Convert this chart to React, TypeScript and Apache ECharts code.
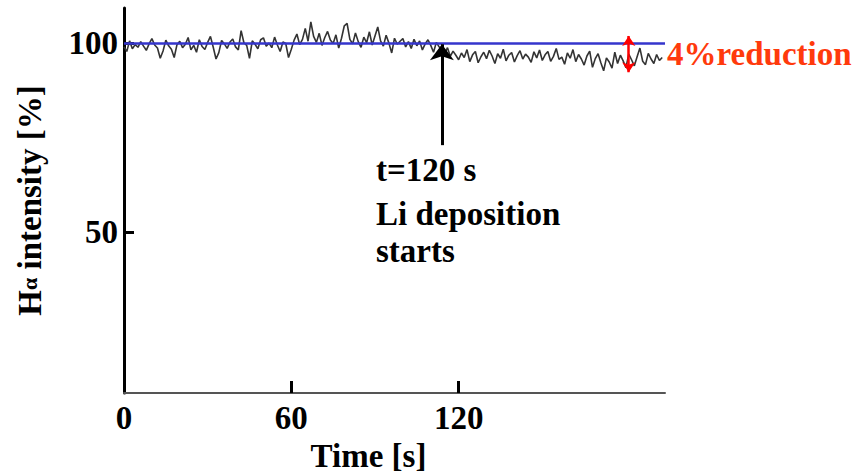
import React, { useEffect, useRef } from "react";
import * as echarts from "echarts";

// Time in seconds (1 s sampling) and H-alpha intensity [%]
const times: number[] = Array.from({ length: 194 }, (_, i) => i);
const intensity: number[] = [
  99.0, 97.8, 100.6, 98.5, 99.6, 98.9, 100.4, 99.2, 98.1, 99.8,
  101.2, 99.5, 98.7, 96.0, 97.9, 100.8, 99.3, 98.4, 96.2, 99.6,
  100.5, 98.8, 99.7, 101.5, 98.2, 99.4, 97.6, 100.9, 99.1, 98.3,
  100.2, 101.8, 98.9, 95.8, 97.5, 100.7, 99.8, 98.6, 100.3, 101.1,
  99.0, 98.2, 103.3, 100.1, 99.4, 96.0, 100.6, 99.7, 98.5, 100.9,
  101.4, 99.2, 100.0, 98.8, 101.6, 99.5, 97.8, 100.3, 99.9, 96.2,
  98.4, 100.8, 102.4, 99.6, 101.0, 103.9, 100.5, 105.6, 101.8, 100.2,
  102.6, 99.4, 101.5, 103.1, 100.8, 99.9, 102.2, 98.7, 101.3, 104.6,
  105.2, 101.0, 99.8, 102.7, 100.4, 98.9, 101.6, 100.1, 103.0, 99.5,
  101.9, 104.3, 100.6, 99.2, 102.1, 100.0, 97.4, 101.3, 99.7, 100.5,
  101.2, 99.0, 100.4, 98.6, 101.0, 99.3, 100.6, 98.2, 99.8, 100.9,
  99.4, 97.6, 100.2, 99.0, 98.4, 97.1, 98.8, 96.5, 97.9, 96.8,
  95.6, 97.4, 96.2, 98.3, 95.1, 96.9, 97.8, 94.8, 96.4, 97.6,
  95.9, 98.1, 96.6, 94.6, 97.2, 96.0, 98.4, 95.3, 96.8, 97.5,
  95.0, 96.7, 98.0, 95.8, 97.1, 96.3, 94.9, 97.7, 96.1, 98.2,
  95.4, 96.9, 97.8, 95.2, 96.5, 98.6, 95.7, 96.3, 94.4, 97.4,
  96.0, 98.3, 95.1, 97.0, 95.8, 94.2, 96.6, 97.9, 93.6, 95.9,
  97.2, 94.8, 92.7, 96.1, 95.0, 93.4, 97.6, 94.6, 96.8, 95.3,
  93.5, 97.1, 95.6, 94.0, 96.4, 98.7, 95.2, 94.3, 97.3, 95.8,
  94.6, 97.0, 95.4, 96.2,
];

const xTicks = [60, 120];
const xLabels = [0, 60, 120];
const yTicks = [50, 100];
const referenceLevel = 100;
// deposition arrow: time, tail value, tip value
const depositionArrow = [114, 73, 99.7];
// reduction arrow: time, top value, bottom value
const reductionArrow = [181, 101.9, 92.3];
const annotationLines = ["t=120 s", "Li deposition", "starts"];
const reductionText = "4%reduction";

const FONT = '"Liberation Serif", "Times New Roman", serif';

export default function App() {
  const ref = useRef<HTMLDivElement>(null);

  useEffect(() => {
    if (!ref.current) return;
    const chart = echarts.init(ref.current, null, { renderer: "svg" });
    const baseText = {
      fontFamily: FONT,
      fontWeight: "bold" as const,
      fontSize: 33,
      color: "#000",
    };
    chart.setOption({
      animation: false,
      backgroundColor: "#ffffff",
      grid: {
        left: 124,
        right: 191,
        top: 8,
        bottom: 82,
        outerBoundsMode: "none",
      },
      xAxis: {
        type: "value",
        min: 0,
        max: 194,
        splitLine: { show: false },
        axisLine: { show: true, onZero: false, lineStyle: { color: "#555", width: 2 } },
        axisTick: {
          show: true,
          inside: true,
          length: 12,
          customValues: xTicks,
          lineStyle: { color: "#000", width: 3 },
        },
        axisLabel: { ...baseText, customValues: xLabels, margin: 8 },
        name: "Time [s]",
        nameLocation: "middle",
        nameGap: 46,
        nameTextStyle: { ...baseText, padding: [0, 52, 0, 0] },
      },
      yAxis: {
        type: "value",
        min: 7.4,
        max: 109.3,
        splitLine: { show: false },
        axisLine: { show: true, onZero: false, lineStyle: { color: "#000", width: 3 } },
        axisTick: {
          show: true,
          inside: true,
          length: 10,
          customValues: yTicks,
          lineStyle: { color: "#000", width: 3 },
        },
        axisLabel: { ...baseText, customValues: yTicks, margin: 6 },
        name: "{h|H}{a|α}{h| intensity [%]}",
        nameLocation: "middle",
        nameGap: 78,
        nameTextStyle: {
          ...baseText,
          rich: {
            h: { ...baseText },
            a: { ...baseText, fontSize: 22 },
          },
        },
      },
      series: [
        {
          type: "line",
          data: times.map((t, i) => [t, intensity[i]]),
          showSymbol: false,
          lineStyle: { color: "#333333", width: 1.6 },
          z: 2,
          markLine: {
            silent: true,
            symbol: ["none", "none"],
            label: { show: false },
            lineStyle: { color: "#3535cc", width: 2.5, type: "solid" },
            data: [{ yAxis: referenceLevel }],
          },
        },
        {
          type: "line",
          data: [],
          markLine: {
            silent: true,
            symbol: ["none", "arrow"],
            symbolSize: [18, 16],
            label: { show: false },
            lineStyle: { color: "#000", width: 3, type: "solid" },
            data: [
              [
                { coord: [depositionArrow[0], depositionArrow[1]] },
                { coord: [depositionArrow[0], depositionArrow[2]] },
              ],
            ],
          },
        },
        {
          type: "line",
          data: [],
          markLine: {
            silent: true,
            symbol: ["arrow", "arrow"],
            symbolSize: [10, 10],
            label: { show: false },
            lineStyle: { color: "#ff0000", width: 2.5, type: "solid" },
            data: [
              [
                { coord: [reductionArrow[0], reductionArrow[1]] },
                { coord: [reductionArrow[0], reductionArrow[2]] },
              ],
            ],
          },
        },
      ],
      graphic: [
        ...annotationLines.map((s, i) => ({
          type: "text",
          left: 376,
          top: [153, 197, 234][i],
          style: {
            text: s,
            font: `bold 33px ${FONT}`,
            fill: "#000",
          },
        })),
        {
          type: "text",
          left: 667,
          top: 37,
          style: {
            text: reductionText,
            font: `bold 33px ${FONT}`,
            fill: "#ff3a0c",
          },
        },
      ],
    });
    return () => chart.dispose();
  }, []);

  return (
    <div
      ref={ref}
      style={{ position: "fixed", left: 0, top: 0, width: 856, height: 475 }}
    />
  );
}
